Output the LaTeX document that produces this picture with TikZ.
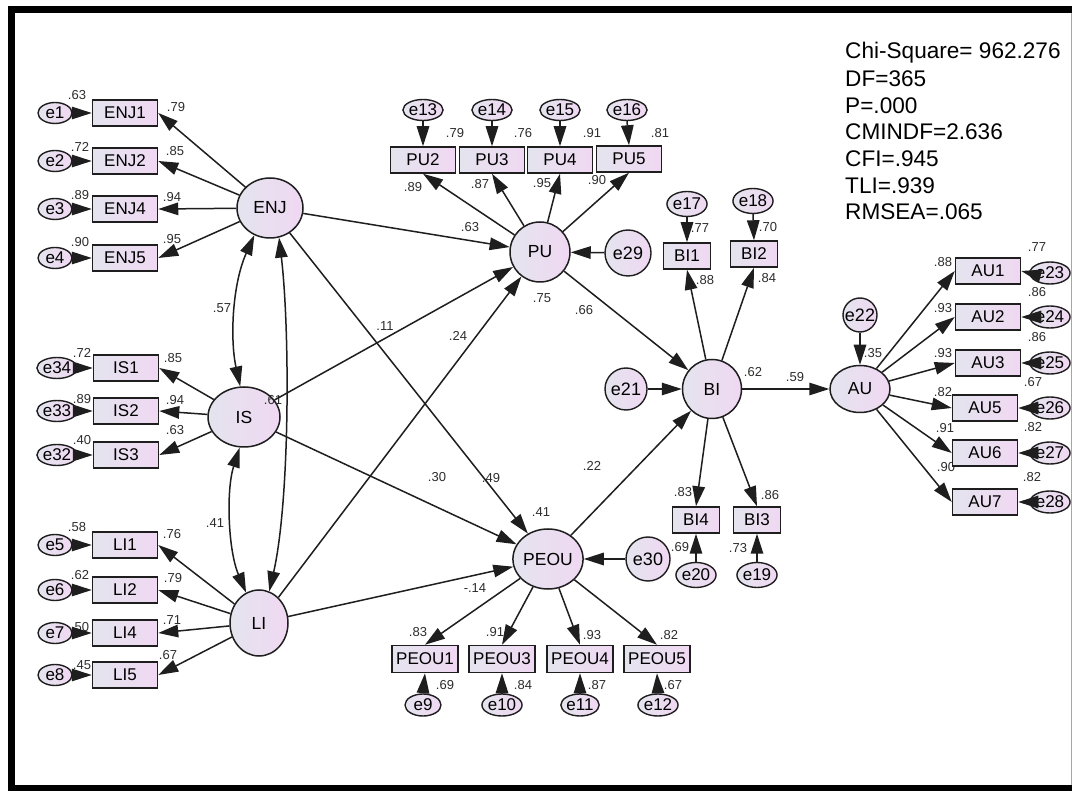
\documentclass[tikz,border=0pt]{standalone}
\usepackage{fontspec}
\setmainfont{Liberation Sans}
\usetikzlibrary{shapes.geometric,arrows.meta}
\definecolor{fillL}{RGB}{228,228,238}
\definecolor{fillR}{RGB}{240,216,242}
\definecolor{edge}{RGB}{30,30,30}
\definecolor{numc}{RGB}{45,45,45}
\newcommand\lb[3]{\node[lab] (#1) at (#2) {#3};}
\begin{document}
\begin{tikzpicture}[x=1pt,y=-1pt,
  grad/.style={left color=fillL,right color=fillR},
  box/.style={grad,draw=edge,line width=1.5pt,rectangle,minimum width=65pt,minimum height=26pt,inner sep=0pt,font=\fontsize{17}{17}\selectfont},
  sbox/.style={box,minimum width=47pt},
  lat/.style={grad,draw=edge,line width=1.5pt,ellipse,inner sep=0pt,font=\fontsize{17.5}{17.5}\selectfont},
  err/.style={grad,draw=edge,line width=1.4pt,ellipse,minimum width=34pt,minimum height=21pt,inner sep=0pt,font=\fontsize{17}{17}\selectfont},
  errb/.style={err,minimum width=33pt,minimum height=25pt},
  errc/.style={grad,draw=edge,line width=1.4pt,circle,inner sep=0pt,font=\fontsize{18}{18}\selectfont},
  lab/.style={font=\fontsize{13}{13}\selectfont,text=numc,inner sep=0pt},
  stat/.style={font=\fontsize{22.6}{22.6}\selectfont,anchor=west,inner sep=0pt},
  arr/.style={draw=edge,line width=1.5pt,-{Triangle[length=20pt,width=12.5pt]}},
  dbl/.style={draw=edge,line width=1.5pt,{Triangle[length=20pt,width=12.5pt]}-{Triangle[length=20pt,width=12.5pt]}},
]
\useasboundingbox (0,0) rectangle (1072,791);
\fill[white] (0,0) rectangle (1072,791);
% frame
\fill[black] (8,6) rectangle (1072,13);
\fill[black] (8,6) rectangle (15,791);
\fill[black] (8,785) rectangle (1072,791);
\draw[black!35,line width=1pt] (1071,13) -- (1071,785);

% fit statistics
\node[stat] (s1) at (845,53) {Chi-Square= 962.276};
\node[stat] (s2) at (845,79) {DF=365};
\node[stat] (s3) at (845,106) {P=.000};
\node[stat] (s4) at (845,132) {CMINDF=2.636};
\node[stat] (s5) at (845,159) {CFI=.945};
\node[stat] (s6) at (845,186) {TLI=.939};
\node[stat] (s7) at (845,212) {RMSEA=.065};

% labels (drawn first, nodes may overlap them)
\lb{a1}{77,95}{.63} \lb{a2}{176,107}{.79}
\lb{a3}{80,147}{.72} \lb{a4}{175,151}{.85}
\lb{a5}{80,195}{.89} \lb{a6}{172,197}{.94}
\lb{a7}{80,242}{.90} \lb{a8}{172,239}{.95}
\lb{b1}{82,353}{.72} \lb{b2}{173,358}{.85}
\lb{b3}{82,399}{.89} \lb{b4}{175,400}{.94}
\lb{b5}{82,440}{.40} \lb{b6}{175,430}{.63}
\lb{c1}{77,527}{.58} \lb{c2}{172,534}{.76}
\lb{c3}{80,575}{.62} \lb{c4}{173,578}{.79}
\lb{c5}{80,627}{.50} \lb{c6}{172,620}{.71}
\lb{c7}{82,665}{.45} \lb{c8}{168,655}{.67}
\lb{d1}{222,308}{.57} \lb{d3}{215,523}{.41}
\lb{p1}{470,227}{.63} \lb{p2}{385,326}{.11} \lb{p3}{458,336}{.24}
\lb{p4}{437,477}{.30} \lb{p5}{491,478}{.49} \lb{p6}{475,588}{-.14}
\lb{p7}{542,298}{.75} \lb{p8}{584,310}{.66} \lb{p9}{592,466}{.22}
\lb{p10}{541,512}{.41} \lb{p11}{753,372}{.62} \lb{p12}{795,377}{.59}
\lb{p13}{873,353}{.35}
\lb{u1}{455,133}{.79} \lb{u2}{523,133}{.76} \lb{u3}{592,133}{.91} \lb{u4}{660,133}{.81}
\lb{u5}{413,187}{.89} \lb{u6}{480,184}{.87} \lb{u7}{542,183}{.95} \lb{u8}{597,180}{.90}
\lb{i1}{700,228}{.77} \lb{i2}{768,227}{.70} \lb{i3}{705,280}{.88} \lb{i4}{767,278}{.84}
\lb{i5}{683,492}{.83} \lb{i6}{770,495}{.86} \lb{i7}{680,547}{.69} \lb{i8}{738,548}{.73}
\lb{v1}{1037,247}{.77} \lb{v2}{943,262}{.88} \lb{v3}{1037,292}{.86} \lb{v4}{943,308}{.93}
\lb{v5}{1037,337}{.86} \lb{v6}{943,353}{.93} \lb{v7}{1033,382}{.67} \lb{v8}{943,392}{.82}
\lb{v9}{1033,427}{.82} \lb{v10}{945,428}{.91} \lb{v11}{1032,477}{.82} \lb{v12}{946,467}{.90}
\lb{w1}{418,632}{.83} \lb{w2}{495,632}{.91} \lb{w3}{592,635}{.93} \lb{w4}{669,635}{.82}
\lb{w5}{445,685}{.69} \lb{w6}{523,685}{.84} \lb{w7}{597,685}{.87} \lb{w8}{673,685}{.67}

% latent variables
\node[lat,minimum width=66pt,minimum height=60pt] (ENJ) at (270,208) {ENJ};
\node[lat,minimum width=72pt,minimum height=60pt] (IS) at (244,417) {IS};
\node[lat,minimum width=58pt,minimum height=66pt] (LI) at (259,623) {LI};
\node[lat,minimum width=60pt,minimum height=60pt] (PU) at (540,252) {PU};
\node[lat,minimum width=66pt,minimum height=60pt] (PEOU) at (548,559) {PEOU};
\node[lat,minimum width=59pt,minimum height=59pt] (BI) at (712,389) {BI};
\node[lat,minimum width=60pt,minimum height=47pt] (AU) at (860,389) {AU};
\lb{d2}{273,400}{.61}

% structural errors
\node[errc,minimum size=46pt] (e29) at (628,253) {e29};
\node[errc,minimum size=44pt] (e30) at (648,559) {e30};
\node[errc,minimum size=42pt] (e21) at (626,389) {e21};
\node[errc,minimum size=34pt] (e22) at (860,315) {e22};

% ENJ indicators
\node[box] (ENJ1) at (125,113) {ENJ1};
\node[box] (ENJ2) at (125,161) {ENJ2};
\node[box] (ENJ4) at (125,209) {ENJ4};
\node[box] (ENJ5) at (125,258) {ENJ5};
\node[err] (e1) at (55,113) {e1};
\node[err] (e2) at (55,161) {e2};
\node[err] (e3) at (55,209) {e3};
\node[err] (e4) at (55,258) {e4};
% IS indicators
\node[box] (IS1) at (126,368) {IS1};
\node[box] (IS2) at (126,411) {IS2};
\node[box] (IS3) at (126,455) {IS3};
\node[err,minimum width=37pt] (e34) at (57,368) {e34};
\node[err,minimum width=37pt] (e33) at (57,411) {e33};
\node[err,minimum width=37pt] (e32) at (57,455) {e32};
% LI indicators
\node[box] (LI1) at (125,545) {LI1};
\node[box] (LI2) at (125,590) {LI2};
\node[box] (LI4) at (125,633) {LI4};
\node[box] (LI5) at (125,675) {LI5};
\node[err] (e5) at (55,545) {e5};
\node[err] (e6) at (55,590) {e6};
\node[err] (e7) at (55,633) {e7};
\node[err] (e8) at (55,675) {e8};
% PU indicators
\node[box] (PU2) at (423,160) {PU2};
\node[box] (PU3) at (492,160) {PU3};
\node[box] (PU4) at (560,160) {PU4};
\node[box] (PU5) at (629,159) {PU5};
\node[err] (e13) at (423,110) {e13};
\node[err] (e14) at (492,110) {e14};
\node[err] (e15) at (560,110) {e15};
\node[err] (e16) at (627,110) {e16};
% BI indicators
\node[sbox] (BI1) at (687,256) {BI1};
\node[sbox] (BI2) at (754,254) {BI2};
\node[sbox] (BI4) at (696,520) {BI4};
\node[sbox] (BI3) at (757,520) {BI3};
\node[errb] (e17) at (687,204) {e17};
\node[errb] (e18) at (753,201) {e18};
\node[errb] (e20) at (696,575) {e20};
\node[errb] (e19) at (757,575) {e19};
% AU indicators
\node[box] (AU1) at (988,271) {AU1};
\node[box] (AU2) at (988,317) {AU2};
\node[box] (AU3) at (988,363) {AU3};
\node[box] (AU5) at (985,408) {AU5};
\node[box] (AU6) at (985,453) {AU6};
\node[box] (AU7) at (985,502) {AU7};
\node[err,minimum width=36pt,minimum height=22pt] (e23) at (1050,273) {e23};
\node[err,minimum width=36pt,minimum height=22pt] (e24) at (1050,317) {e24};
\node[err,minimum width=36pt,minimum height=22pt] (e25) at (1050,363) {e25};
\node[err,minimum width=36pt,minimum height=22pt] (e26) at (1050,408) {e26};
\node[err,minimum width=36pt,minimum height=22pt] (e27) at (1050,453) {e27};
\node[err,minimum width=36pt,minimum height=22pt] (e28) at (1050,502) {e28};
% PEOU indicators
\node[box,minimum width=66pt,minimum height=27pt] (PEOU1) at (425,659) {PEOU1};
\node[box,minimum width=66pt,minimum height=27pt] (PEOU3) at (502,659) {PEOU3};
\node[box,minimum width=66pt,minimum height=27pt] (PEOU4) at (580,659) {PEOU4};
\node[box,minimum width=66pt,minimum height=27pt] (PEOU5) at (657,659) {PEOU5};
\node[err,minimum width=36pt,minimum height=22pt] (e9) at (423,705) {e9};
\node[err,minimum width=36pt,minimum height=22pt] (e10) at (502,705) {e10};
\node[err,minimum width=36pt,minimum height=22pt] (e11) at (580,705) {e11};
\node[err,minimum width=36pt,minimum height=22pt] (e12) at (658,705) {e12};

% measurement paths
\foreach \i in {1,2,4,5} \draw[arr] (ENJ) -- (ENJ\i.east);
\foreach \e/\i in {1/1,2/2,3/4,4/5} \draw[arr] (e\e.east) -- (ENJ\i.west);
\foreach \i in {1,2,3} \draw[arr] (IS) -- (IS\i.east);
\foreach \e/\i in {34/1,33/2,32/3} \draw[arr] (e\e.east) -- (IS\i.west);
\foreach \i in {1,2,4,5} \draw[arr] (LI) -- (LI\i.east);
\foreach \e/\i in {5/1,6/2,7/4,8/5} \draw[arr] (e\e.east) -- (LI\i.west);
\foreach \i in {2,3,4,5} \draw[arr] (PU) -- (PU\i.south);
\foreach \e/\i in {13/2,14/3,15/4,16/5} \draw[arr] (e\e.south) -- (PU\i.north);
\foreach \i in {1,3,4,5} \draw[arr] (PEOU) -- (PEOU\i.north);
\foreach \e/\i in {9/1,10/3,11/4,12/5} \draw[arr] (e\e.north) -- (PEOU\i.south);
\draw[arr] (BI) -- (BI1.south);
\draw[arr] (BI) -- (BI2.south);
\draw[arr] (BI) -- (BI4.north);
\draw[arr] (BI) -- (BI3.north);
\draw[arr] (e17.south) -- (BI1.north);
\draw[arr] (e18.south) -- (BI2.north);
\draw[arr] (e20.north) -- (BI4.south);
\draw[arr] (e19.north) -- (BI3.south);
\foreach \i in {1,2,3,5,6,7} \draw[arr] (AU) -- (AU\i.west);
\foreach \e/\i in {23/1,24/2,25/3,26/5,27/6,28/7} \draw[arr] (e\e.west) -- (AU\i.east);

% structural paths
\draw[arr] (ENJ) -- (PU);
\draw[arr] (ENJ) -- (PEOU);
\draw[arr] (IS) -- (PU);
\draw[arr] (IS) -- (PEOU);
\draw[arr] (LI) -- (PU);
\draw[arr] (LI) -- (PEOU);
\draw[arr] (PU) -- (BI);
\draw[arr] (PEOU) -- (BI);
\draw[arr] (BI) -- (AU);
\draw[arr] (e29) -- (PU);
\draw[arr] (e30) -- (PEOU);
\draw[arr] (e21) -- (BI);
\draw[arr] (e22) -- (AU);

% covariances
\draw[dbl] (ENJ.240) .. controls (232,285) and (230,340) .. (IS.97);
\draw[dbl] (ENJ.287) .. controls (290,330) and (290,500) .. (LI.72);
\draw[dbl] (IS.262) .. controls (226,490) and (228,550) .. (LI.113);
\end{tikzpicture}
\end{document}
